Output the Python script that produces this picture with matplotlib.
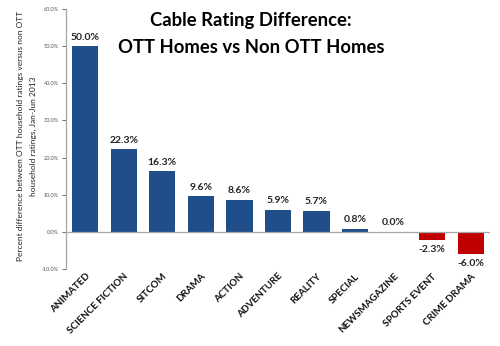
import matplotlib
matplotlib.use("Agg")
import matplotlib.pyplot as plt
from matplotlib.ticker import FuncFormatter

categories = ["ANIMATED", "SCIENCE FICTION", "SITCOM", "DRAMA", "ACTION", "ADVENTURE",
              "REALITY", "SPECIAL", "NEWSMAGAZINE", "SPORTS EVENT", "CRIME DRAMA"]
values = [50.0, 22.3, 16.3, 9.6, 8.6, 5.9, 5.7, 0.8, 0.0, -2.3, -6.0]
y_ticks = [-10, 0, 10, 20, 30, 40, 50, 60]

plt.rcParams['font.family'] = ['Lato', 'DejaVu Sans']

fig = plt.figure(figsize=(5.0, 3.46), dpi=100)
ax = fig.add_axes([0.132, 0.2225, 0.848, 0.7515])

colors = ['#C00000' if v < 0 else '#1F4E8A' for v in values]
x = range(len(categories))
ax.bar(x, values, width=0.68, color=colors, zorder=2)

for xi, v in zip(x, values):
    if v < 0:
        ax.text(xi, v - 1.2, f"{v:.1f}%", ha='center', va='top', fontsize=7.5,
                fontweight='bold', color='#222222')
    else:
        ax.text(xi, v + 1.2, f"{v:.1f}%", ha='center', va='bottom', fontsize=7.5,
                fontweight='bold', color='#222222')

ax.set_xlim(-0.5, len(categories) - 0.5)
ax.set_ylim(-10, 60)
ax.set_yticks(y_ticks)
ax.yaxis.set_major_formatter(FuncFormatter(lambda v, p: f"{v:.1f}%"))
ax.tick_params(axis='y', labelsize=4, colors='#555555', length=3, width=0.6,
               direction='out', pad=2)
ax.tick_params(axis='x', length=0, pad=2)
ax.set_xticks(list(x))
ax.set_xticklabels(categories, rotation=45, ha='right', rotation_mode='anchor',
                   fontsize=7, fontweight='bold', color='#111111')

for s in ['top', 'right', 'bottom']:
    ax.spines[s].set_visible(False)
ax.spines['left'].set_color('#A6A6A6')
ax.spines['left'].set_linewidth(0.9)
ax.axhline(0, color='#A6A6A6', linewidth=0.9, zorder=3)

fig.text(0.054, 0.607,
         "Percent difference between OTT household ratings versus non OTT\nhousehold ratings, Jan-Jun 2013",
         rotation=90, ha='center', va='center', fontsize=6.0, color='#222222',
         linespacing=2.1, multialignment='center')

fig.text(0.502, 0.94, "Cable Rating Difference:", ha='center', va='center',
         fontsize=13.3, fontweight='bold', color='#000000')
fig.text(0.502, 0.862, "OTT Homes vs Non OTT Homes", ha='center', va='center',
         fontsize=13.3, fontweight='bold', color='#000000')

fig.savefig("out.png", dpi=100)
